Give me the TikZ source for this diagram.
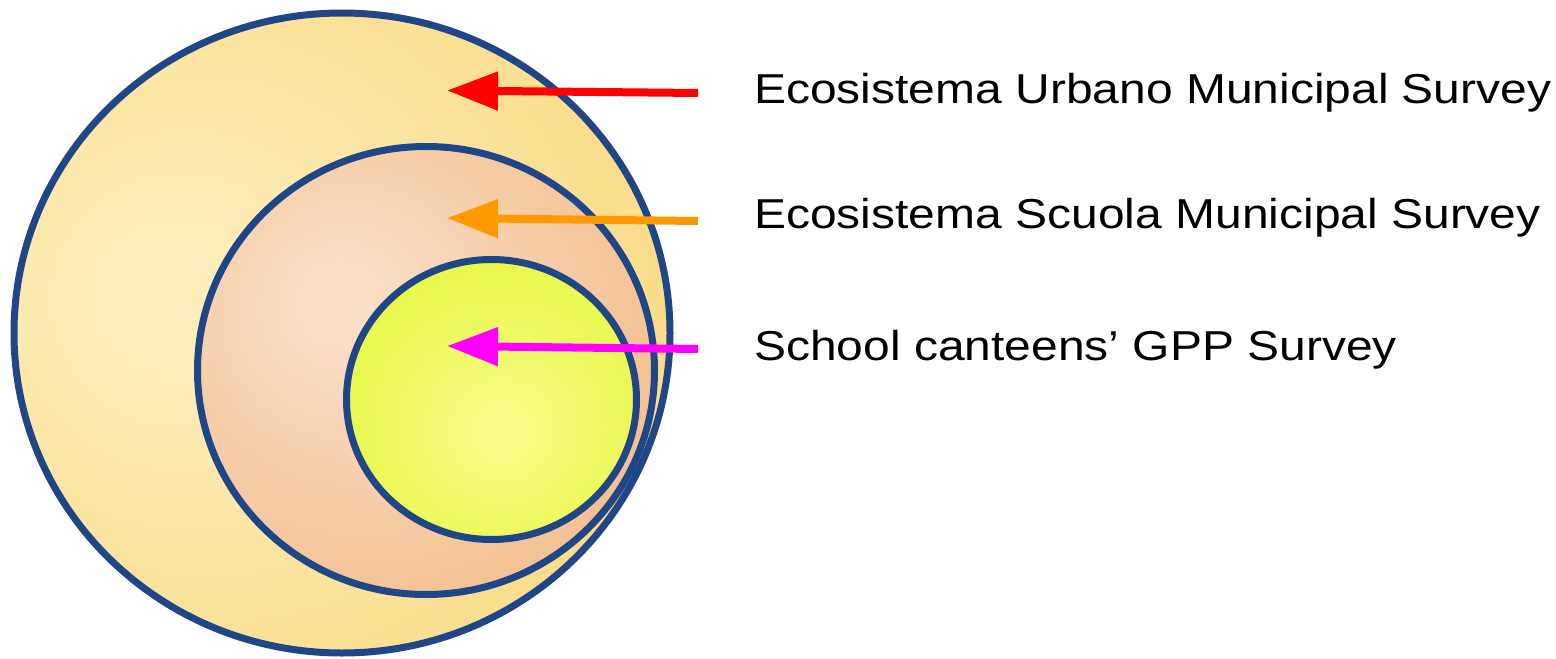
\documentclass[tikz,border=0pt]{standalone}
\usepackage{fontspec}
\setmainfont{Liberation Sans}[FakeStretch=1.147]
\usetikzlibrary{arrows.meta}

\definecolor{ringblue}{HTML}{1F4788}
\definecolor{urbanlight}{HTML}{FDEEBC}
\definecolor{urbandark}{HTML}{F9D77B}
\definecolor{scuolalight}{HTML}{FADFC6}
\definecolor{scuoladark}{HTML}{F2BB88}
\definecolor{mensalight}{HTML}{F5FC86}
\definecolor{mensadark}{HTML}{E4F52C}
\definecolor{arrowred}{HTML}{FF0000}
\definecolor{arroworange}{HTML}{FF9900}
\definecolor{arrowmagenta}{HTML}{FF00FF}

\pgfdeclareradialshading{urbanshade}{\pgfpoint{-14bp}{3bp}}{color(0bp)=(urbanlight); color(4bp)=(urbanlight); color(42bp)=(urbandark); color(80bp)=(urbandark)}
\pgfdeclareradialshading{scuolashade}{\pgfpoint{-10bp}{8bp}}{color(0bp)=(scuolalight); color(3bp)=(scuolalight); color(38bp)=(scuoladark); color(80bp)=(scuoladark)}
\pgfdeclareradialshading{mensashade}{\pgfpoint{2bp}{-6bp}}{color(0bp)=(mensalight); color(3bp)=(mensalight); color(42bp)=(mensadark); color(80bp)=(mensadark)}

\begin{document}
\begin{tikzpicture}[
        x=0.02cm, y=-0.02cm,
        ring/.style={draw=ringblue, line width=0.14cm},
        survey/.style={line width=0.16cm, -{Triangle[length=1.02cm, width=0.74cm]}},
        every node/.style={font=\fontsize{23.8}{28}\selectfont, inner sep=0pt, anchor=base west}
    ]
        \useasboundingbox (0,0) rectangle (1556,659);

        % nested survey areas
        \shade[ring, shading=urbanshade] (342,333) ellipse [x radius=328, y radius=320];
        \shade[ring, shading=scuolashade] (426,370.5) ellipse [x radius=228.5, y radius=224];
        \shade[ring, shading=mensashade] (491.5,399.5) ellipse [x radius=145, y radius=140];

        \node (urbano) at (754,103) {Ecosistema Urbano Municipal Survey};
        \node (scuola) at (754,228) {Ecosistema Scuola Municipal Survey};
        \node (mensa) at (754,360) {School canteens’ GPP Survey};

        \coordinate (urbanofrom) at (698,93);
        \coordinate (scuolafrom) at (698,221);
        \coordinate (mensafrom) at (698,349);
        \coordinate (urbanoto) at (447,90.5);
        \coordinate (scuolato) at (447,218);
        \coordinate (mensato) at (447,346);

        \draw[survey, arrowred] (urbanofrom) -- (urbanoto);
        \draw[survey, arroworange] (scuolafrom) -- (scuolato);
        \draw[survey, arrowmagenta] (mensafrom) -- (mensato);
    \end{tikzpicture}
\end{document}
